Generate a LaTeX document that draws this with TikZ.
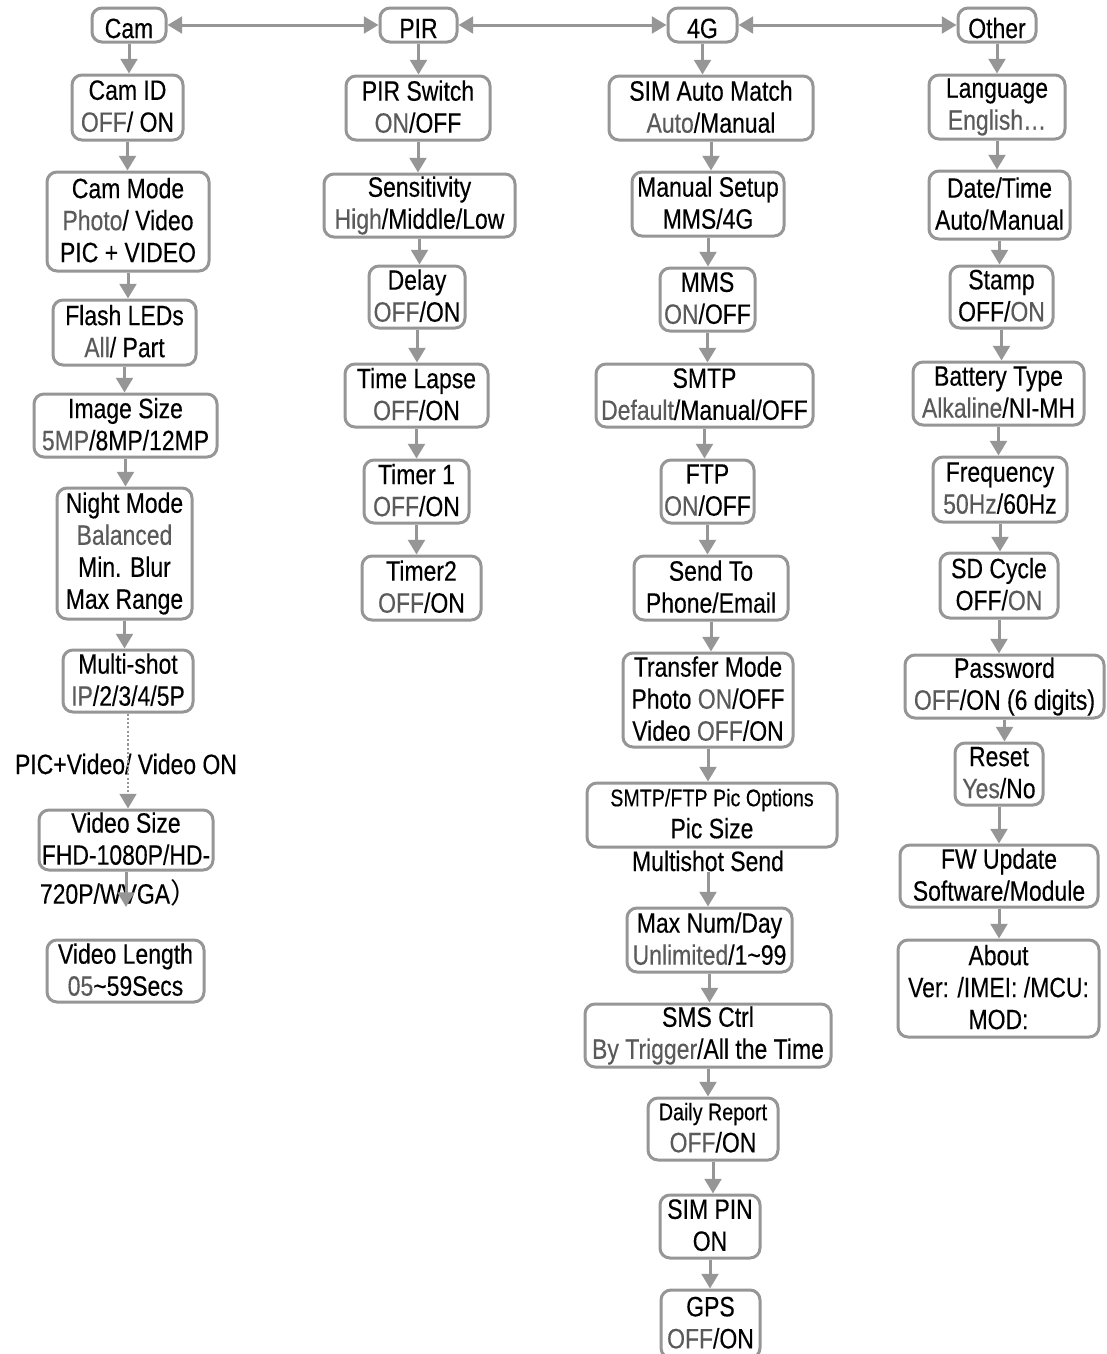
\documentclass[tikz,border=0pt]{standalone}
\usepackage{fontspec}
\setmainfont{Liberation Sans}[FakeStretch=0.82,FakeBold=0.3]
\newfontfamily\cjkf{Noto Sans CJK SC}
\usetikzlibrary{arrows.meta}
\definecolor{bord}{RGB}{150,150,150}
\definecolor{gtxt}{RGB}{90,90,90}
\newcommand\gry[1]{\textcolor{gtxt}{#1}}
\newcommand\st{\rule[-2.2pt]{0pt}{24pt}}
\newcommand\smf{\fontsize{18pt}{24pt}\selectfont}
\newcommand\bxn[6]{%
 \pgfmathsetmacro\cxx{(#2+#4)/2}%
 \pgfmathsetmacro\cyy{(#3+#5)/2}%
 \pgfmathsetmacro\ww{(#4-#2)*0.75}%
 \pgfmathsetmacro\hh{(#5-#3)*0.75}%
 \node[box,minimum width=\ww pt,minimum height=\hh pt] (#1) at (\cxx,\cyy) {#6};}
\tikzset{
 box/.style={draw=bord, line width=2.25pt, rounded corners=7.5pt, fill=white,
   align=center, inner sep=0pt, font=\fontsize{21pt}{24pt}\selectfont,
   execute at begin node=\st, execute at end node=\st},
 lbl/.style={align=center, inner sep=0pt, font=\fontsize{21pt}{24pt}\selectfont},
 arr/.style={draw=bord, line width=2.25pt, -{Triangle[width=12.5pt,length=11pt]}},
 darr/.style={draw=bord, line width=2.25pt, {Triangle[width=12.5pt,length=11pt]}-{Triangle[width=12.5pt,length=11pt]}},
 dotarr/.style={draw=bord, line width=1.8pt, dash pattern=on 1.6pt off 1.6pt, -{Triangle[width=12.5pt,length=11pt]}}
}
\begin{document}
\begin{tikzpicture}[x=0.75pt,y=-0.75pt]
\useasboundingbox[fill=white] (0,0) rectangle (1107,1354);
% top row
\bxn{camT}{92}{8}{166}{42}{Cam}
\bxn{pirT}{380}{8}{457}{42}{PIR}
\bxn{gT}{668}{8}{737}{42}{4G}
\bxn{oT}{958}{8}{1036}{42}{Other}
\draw[darr] (camT.east) -- (pirT.west);
\draw[darr] (pirT.east) -- (gT.west);
\draw[darr] (gT.east) -- (oT.west);
% Cam column
\bxn{camid}{72}{75}{183}{140}{Cam ID\\\gry{OFF}/ ON}
\bxn{cammode}{47}{172}{209}{271}{Cam Mode\\\gry{Photo}/ Video\\PIC + VIDEO}
\bxn{flash}{53}{300}{196}{365}{Flash LEDs\\\gry{All}/ Part}
\bxn{imgsize}{34}{394}{217}{457}{Image Size\\\gry{5MP}/8MP/12MP}
\bxn{night}{57}{488}{192}{619}{Night Mode\\\gry{Balanced}\\Min. Blur\\Max Range}
\bxn{multi}{63}{650}{193}{712}{Multi-shot\\\gry{IP}/2/3/4/5P}
\bxn{vidsize}{39}{810}{213}{870}{Video Size\\FHD-1080P/HD-}
\node[lbl] (vidsize3) at (119,893) {720P/WVGA{\cjkf ）}};
\bxn{vidlen}{47}{940}{204}{1002}{Video Length\\\gry{05}\textasciitilde59Secs}
\node[lbl] (pvlabel) at (126,764) {PIC+Video/ Video ON};
\coordinate (vsend) at (128,907);
\foreach \a/\b in {camT/camid,camid/cammode,cammode/flash,flash/imgsize,imgsize/night,night/multi}
  \draw[arr] (\a.south) -- (\a.south |- \b.north);
\draw[dotarr] (multi.south) -- (multi.south |- vidsize.north);
\draw[arr] (vidsize.south) -- (vidsize.south |- vsend);
% PIR column
\bxn{pirsw}{346}{76}{490}{140}{PIR Switch\\\gry{ON}/OFF}
\bxn{sens}{324}{174}{515}{237}{Sensitivity\\\gry{High}/Middle/Low}
\bxn{delay}{369}{266}{465}{328}{Delay\\\gry{OFF}/ON}
\bxn{tlapse}{345}{364}{488}{427}{Time Lapse\\\gry{OFF}/ON}
\bxn{timer1}{364}{460}{469}{523}{Timer 1\\\gry{OFF}/ON}
\bxn{timer2}{362}{556}{481}{620}{Timer2\\\gry{OFF}/ON}
\foreach \a/\b in {pirT/pirsw,pirsw/sens,sens/delay,delay/tlapse,tlapse/timer1,timer1/timer2}
  \draw[arr] (\a.south) -- (\a.south |- \b.north);
% 4G column
\bxn{simauto}{609}{76}{813}{140}{SIM Auto Match\\\gry{Auto}/Manual}
\bxn{manual}{632}{172}{784}{236}{Manual Setup\\MMS/4G}
\bxn{mms}{660}{268}{755}{331}{MMS\\\gry{ON}/OFF}
\bxn{smtp}{596}{364}{813}{427}{SMTP\\\gry{Default}/Manual/OFF}
\bxn{ftp}{661}{460}{754}{523}{FTP\\\gry{ON}/OFF}
\bxn{sendto}{634}{556}{788}{620}{Send To\\Phone/Email}
\bxn{transfer}{623}{653}{793}{747}{Transfer Mode\\Photo \gry{ON}/OFF\\Video \gry{OFF}/ON}
\bxn{picopt}{587}{783}{837}{847}{{\smf SMTP/FTP Pic Options}\\Pic Size}
\node[lbl] (mshot) at (708,861) {Multishot Send};
\bxn{maxnum}{627}{908}{792}{972}{Max Num/Day\\\gry{Unlimited}/1\textasciitilde99}
\bxn{smsctrl}{585}{1004}{831}{1067}{SMS Ctrl\\\gry{By Trigger}/All the Time}
\bxn{daily}{648}{1098}{778}{1160}{{\smf Daily Report}\\\gry{OFF}/ON}
\bxn{simpin}{660}{1195}{760}{1258}{SIM PIN\\ON}
\bxn{gps}{661}{1290}{760}{1358}{GPS\\\gry{OFF}/ON}
\foreach \a/\b in {gT/simauto,simauto/manual,manual/mms,mms/smtp,smtp/ftp,ftp/sendto,sendto/transfer,transfer/picopt,mshot/maxnum,maxnum/smsctrl,smsctrl/daily,daily/simpin,simpin/gps}
  \draw[arr] (\a.south) -- (\a.south |- \b.north);
% Other column
\bxn{lang}{929}{75}{1065}{139}{Language\\\gry{English…}}
\bxn{date}{929}{171}{1070}{239}{Date/Time\\Auto/Manual}
\bxn{stamp}{950}{266}{1053}{328}{Stamp\\OFF/\gry{ON}}
\bxn{batt}{913}{362}{1084}{425}{Battery Type\\\gry{Alkaline}/NI-MH}
\bxn{freq}{933}{457}{1067}{522}{Frequency\\\gry{50Hz}/60Hz}
\bxn{sd}{940}{553}{1058}{618}{SD Cycle\\OFF/\gry{ON}}
\bxn{pass}{905}{655}{1104}{718}{Password\\\gry{OFF}/ON (6 digits)}
\bxn{reset}{955}{743}{1043}{805}{Reset\\\gry{Yes}/No}
\bxn{fw}{900}{845}{1098}{907}{FW Update\\Software/Module}
\bxn{about}{898}{940}{1099}{1037}{About\\Ver: /IMEI: /MCU:\\MOD:}
\foreach \a/\b in {oT/lang,lang/date,date/stamp,stamp/batt,batt/freq,freq/sd,sd/pass,pass/reset,reset/fw,fw/about}
  \draw[arr] (\a.south) -- (\a.south |- \b.north);
\end{tikzpicture}
\end{document}
